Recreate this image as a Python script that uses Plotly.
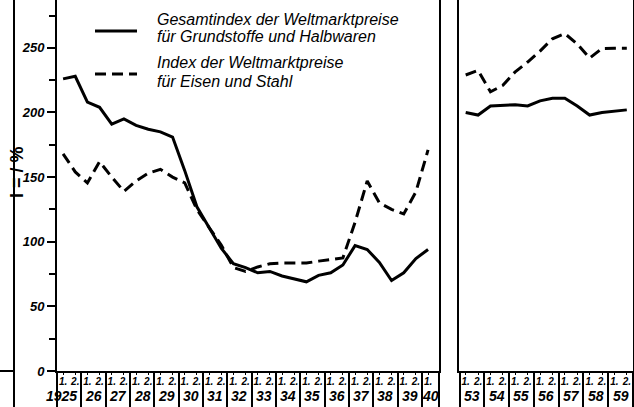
import plotly.graph_objects as go

# ---------------- data ----------------
years_a = list(range(1925, 1941))          # panel 1: 1925 .. 1940 (1940 only first half)
years_b = list(range(1953, 1960))          # panel 2: 1953 .. 1959
year_labels_a = ["1925", "26", "27", "28", "29", "30", "31", "32", "33", "34", "35", "36", "37", "38", "39", "40"]
year_labels_b = ["53", "54", "55", "56", "57", "58", "59"]
half_labels = ["1.", "2."]

# Gesamtindex der Weltmarktpreise für Grundstoffe und Halbwaren (half-yearly)
total_a = [226, 228, 208, 204, 191, 195, 190, 187, 185, 181, 155, 127, 111, 95, 83, 80,
           76, 77, 73.5, 71, 69, 74, 76, 82, 97, 94, 84, 70, 76, 87, 94]
# Index der Weltmarktpreise für Eisen und Stahl (half-yearly)
steel_a = [168, 154, 145.5, 162, 150, 139, 147, 153, 156, 150, 145.5, 125, 111, 97.5, 80, 77,
           80.5, 83, 83.5, 83.5, 83.5, 85, 86, 87.5, 115, 147, 130, 125, 121.5, 138.5, 171]

total_b = [200, 198, 205, 205.5, 206, 205, 209, 211, 211, 205, 198, 200, 201, 202]
steel_b = [229, 232.5, 216, 221, 231.5, 239, 247.5, 257, 261, 253, 242, 249.5, 249.7, 249.7]

legend_texts = ["Gesamtindex der Weltmarktpreise", "für Grundstoffe und Halbwaren",
                "Index der Weltmarktpreise", "für Eisen und Stahl"]

# ---------------- helpers ----------------
def half_positions(years, n):
    xs = []
    for y in years:
        for h in (0.25, 0.75):
            xs.append(y + h)
    return xs[:n]

xa = half_positions(years_a, len(total_a))
xb = half_positions(years_b, len(total_b))

RANGE_A = [1925, 1940.7]
RANGE_B = [1952.98, 1960]

FONT = "Liberation Sans"
fig = go.Figure()

line_solid = dict(color="black", width=3)
line_dash = dict(color="black", width=3, dash="11px,6px")

fig.add_trace(go.Scatter(x=xa, y=total_a, mode="lines", line=line_solid, xaxis="x", yaxis="y"))
fig.add_trace(go.Scatter(x=xa, y=steel_a, mode="lines", line=line_dash, xaxis="x", yaxis="y"))
fig.add_trace(go.Scatter(x=xb, y=total_b, mode="lines", line=line_solid, xaxis="x2", yaxis="y2"))
fig.add_trace(go.Scatter(x=xb, y=steel_b, mode="lines", line=line_dash, xaxis="x2", yaxis="y2"))

W, H = 634, 407
B = 36
plot_h = H - B

tickfont = dict(family=FONT, size=10, color="black", style="italic", weight="bold")
dom_a = [57 / W, 439 / W]
dom_b = [459 / W, 633 / W]

sep_a = years_a + [RANGE_A[1]]
sep_b = years_b + [RANGE_B[1]]

fig.update_layout(
    width=W, height=H,
    margin=dict(l=0, r=0, t=0, b=B),
    paper_bgcolor="white", plot_bgcolor="white",
    showlegend=False,
    # year separators (long ticks through the label area)
    xaxis=dict(domain=dom_a, range=RANGE_A, showgrid=False, zeroline=False,
               showline=True, linecolor="black", linewidth=2,
               tickvals=sep_a, showticklabels=False,
               ticks="outside", ticklen=B, tickwidth=1.5, tickcolor="black"),
    xaxis2=dict(domain=dom_b, range=RANGE_B, showgrid=False, zeroline=False,
                showline=True, linecolor="black", linewidth=2, anchor="y2",
                tickvals=sep_b, showticklabels=False,
                ticks="outside", ticklen=B, tickwidth=1.5, tickcolor="black"),
    # half-year labels
    xaxis3=dict(domain=dom_a, range=RANGE_A, overlaying="x", anchor="y", side="bottom",
                showgrid=False, zeroline=False, showline=False,
                tickvals=xa, ticktext=[half_labels[i % 2] for i in range(len(xa))],
                ticks="outside", ticklen=3, tickcolor="black", tickfont=tickfont,
                ticklabelstandoff=-2),
    xaxis4=dict(domain=dom_b, range=RANGE_B, overlaying="x2", anchor="y2", side="bottom",
                showgrid=False, zeroline=False, showline=False,
                tickvals=xb, ticktext=[half_labels[i % 2] for i in range(len(xb))],
                ticks="outside", ticklen=3, tickcolor="black", tickfont=tickfont,
                ticklabelstandoff=-2),
    yaxis=dict(range=[0, 287], showgrid=False, zeroline=False, showline=True, mirror=True,
               linecolor="black", linewidth=2, tickvals=[0, 50, 100, 150, 200, 250],
               ticks="outside", ticklen=8, tickwidth=1.5, tickcolor="black",
               minor=dict(tickvals=[25, 75, 125, 175, 225, 275], ticks="outside", ticklen=6,
                          tickwidth=1.5, tickcolor="black"),
               tickfont=dict(family=FONT, size=13, color="black", style="italic", weight="bold")),
    yaxis2=dict(range=[0, 287], showgrid=False, zeroline=False, showline=True, mirror=True,
                linecolor="black", linewidth=2, anchor="x2", showticklabels=False, ticks=""),
)

# invisible traces so the label axes are drawn
fig.add_trace(go.Scatter(x=[xa[0]], y=[0], mode="markers", marker=dict(opacity=0),
                         xaxis="x3", yaxis="y", hoverinfo="skip"))
fig.add_trace(go.Scatter(x=[xb[0]], y=[0], mode="markers", marker=dict(opacity=0),
                         xaxis="x4", yaxis="y2", hoverinfo="skip"))

shapes = []
annotations = []

yearfont = dict(family=FONT, size=14, color="black")
for i, yv in enumerate(years_a):
    cx = yv + (0.5 if yv < 1940 else 0.33)
    annotations.append(dict(x=cx, y=-25 / plot_h, xref="x", yref="paper", xanchor="center",
                            yanchor="middle", showarrow=False, xshift=(-8 if i == 0 else 0),
                            text="<i><b>%s</b></i>" % year_labels_a[i], font=yearfont))
for i, yv in enumerate(years_b):
    annotations.append(dict(x=yv + 0.5, y=-25 / plot_h, xref="x2", yref="paper", xanchor="center",
                            yanchor="middle", showarrow=False,
                            text="<i><b>%s</b></i>" % year_labels_b[i], font=yearfont))

# legend
legfont = dict(family=FONT, size=16, color="black")
shapes.append(dict(type="line", xref="paper", yref="paper", x0=95 / W, x1=137 / W,
                   y0=1 - 31 / plot_h, y1=1 - 31 / plot_h, line=line_solid))
shapes.append(dict(type="line", xref="paper", yref="paper", x0=95 / W, x1=137 / W,
                   y0=1 - 74 / plot_h, y1=1 - 74 / plot_h, line=line_dash))
for txt, ypx in zip(legend_texts, [19, 37, 63, 81]):
    annotations.append(dict(x=155 / W, y=1 - ypx / plot_h, xref="paper", yref="paper",
                            xanchor="left", yanchor="middle", showarrow=False,
                            text="<i>%s</i>" % txt, font=legfont))

# remnants of the neighbouring chart on the left edge
shapes.append(dict(type="line", xref="paper", yref="paper", x0=14 / W, x1=14 / W, y0=-B / plot_h, y1=1,
                   line=dict(color="black", width=2)))
shapes.append(dict(type="line", xref="paper", yref="paper", x0=0, x1=14 / W, y0=0, y1=0,
                   line=dict(color="black", width=2)))
annotations.append(dict(x=5 / W, y=1 - 172 / plot_h, xref="paper", yref="paper", showarrow=False,
                        textangle=-90, text="<b>I = / %</b>", font=dict(family=FONT, size=18, color="black")))

fig.update_layout(shapes=shapes, annotations=annotations)
fig.write_html("out.html", config={"displayModeBar": False},
               post_script="document.body.style.margin='0';document.body.style.overflow='hidden';")
